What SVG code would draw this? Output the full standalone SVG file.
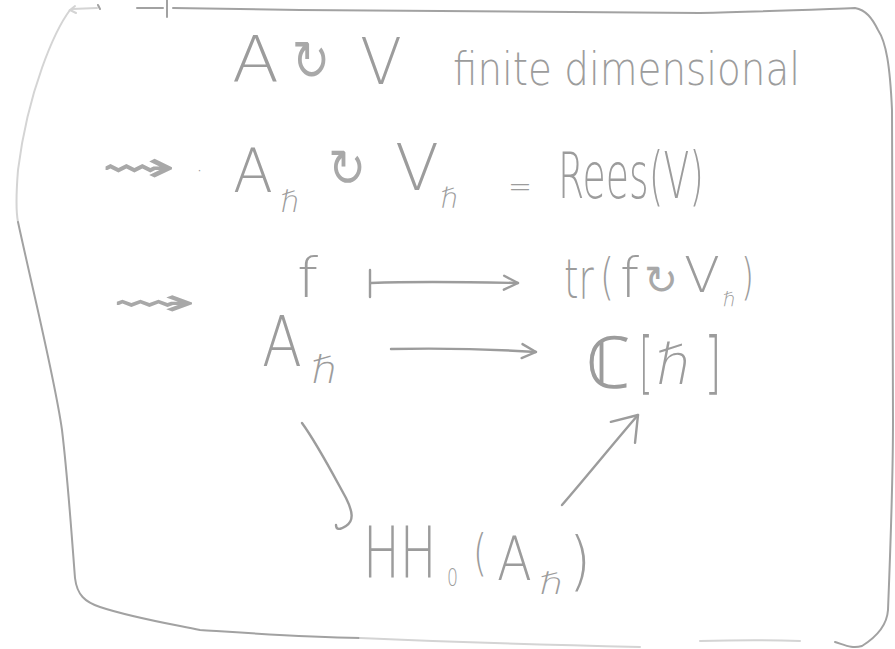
<svg xmlns="http://www.w3.org/2000/svg" width="895" height="649" viewBox="0 0 895 649">
<style>
.t{font-family:"DejaVu Sans","Liberation Sans",sans-serif;fill:#9c9c9c;font-weight:200}
.y{font-weight:400;fill:#a8a8a8}
.ln{fill:none;stroke:#9c9c9c;stroke-width:2.4;stroke-linecap:round;stroke-linejoin:round}
.fr{fill:none;stroke:#a2a2a2;stroke-width:2;stroke-linecap:round;stroke-linejoin:round}
.frl{fill:none;stroke:#d4d4d4;stroke-width:2;stroke-linecap:round}
</style>
<defs>
<marker id="ah" viewBox="-2 -2 20 20" refX="14" refY="7" markerWidth="20" markerHeight="20" markerUnits="userSpaceOnUse" orient="auto">
<path d="M0,0 L14,7 L0,14" fill="none" stroke="#9c9c9c" stroke-width="2.4" stroke-linecap="round" stroke-linejoin="round"/>
</marker>
<marker id="ahL" viewBox="-2 -2 30 36" refX="23" refY="16" markerWidth="30" markerHeight="36" markerUnits="userSpaceOnUse" orient="auto">
<path d="M0,0 L23,16 L0,32" fill="none" stroke="#9c9c9c" stroke-width="2.4" stroke-linecap="round" stroke-linejoin="round"/>
</marker>
</defs>
<rect width="895" height="649" fill="#ffffff"/>
<g id="frame">
<path class="frl" d="M70,10 C55,30 28,90 18,170 C16,195 16,212 18,222"/>
<path class="frl" d="M75,6 L70,10 L76,13 M72,9 L97,8"/>
<path class="fr" d="M98,5 L100,9 M137,8 L163,8 M167,0 L167,17"/>
<path class="fr" d="M18,222 C35,300 55,380 62,430 C68,480 72,540 75,578 C77,595 85,602 100,607 C130,617 160,622 200,630 C260,634 300,637 360,638"/>
<path class="frl" d="M360,638 C450,642 550,645 640,647 M700,641 C740,640 770,640 800,641"/>
<path class="fr" d="M835,642 C845,645 852,649 862,646 C878,636 887,625 888,610 C890,560 893,480 893,420 L892,110 C890,65 886,42 878,30 C872,18 866,10 855,8 C800,10 750,12 700,13 C600,13 450,11 300,10 L173,8"/>
</g>
<g id="statement">
<text class="t" font-size="64"><tspan x="232" y="82" textLength="47" lengthAdjust="spacingAndGlyphs">A</tspan><tspan class="y" x="292" y="80" font-size="56" textLength="38" lengthAdjust="spacingAndGlyphs">↻</tspan><tspan x="360" y="84" textLength="42" lengthAdjust="spacingAndGlyphs">V</tspan><tspan x="453" y="85" font-size="46" textLength="347" lengthAdjust="spacingAndGlyphs">finite dimensional</tspan></text>
</g>
<g id="rees">
<text class="t" font-size="60"><tspan class="y" x="100" y="182" font-size="44" textLength="76" lengthAdjust="spacingAndGlyphs">⇝</tspan><tspan x="196" y="178" font-size="22">·</tspan><tspan x="233" y="192" textLength="40" lengthAdjust="spacingAndGlyphs">A</tspan><tspan x="281" y="212" font-size="30">ℏ</tspan><tspan class="y" x="328" y="186" font-size="52" textLength="38" lengthAdjust="spacingAndGlyphs">↻</tspan><tspan x="395" y="190" font-size="64" textLength="44" lengthAdjust="spacingAndGlyphs">V</tspan><tspan x="441" y="208" font-size="28">ℏ</tspan><tspan x="508" y="198" font-size="34" textLength="24" lengthAdjust="spacingAndGlyphs">=</tspan><tspan x="558" y="198" font-size="64" textLength="146" lengthAdjust="spacingAndGlyphs">Rees(V)</tspan></text>
</g>
<g id="wiggle2">
<text class="t y" x="111" y="315" font-size="38" textLength="86" lengthAdjust="spacingAndGlyphs">⇝</text>
</g>
<g id="f">
<text class="t" x="297" y="297" font-size="56" textLength="21" lengthAdjust="spacingAndGlyphs">f</text>
</g>
<g id="trace">
<text class="t" font-size="56" transform="translate(564,298) scale(0.66,1)">tr</text>
<text class="t" font-size="56"><tspan x="600" y="294" font-size="50" textLength="14" lengthAdjust="spacingAndGlyphs">(</tspan><tspan x="620" y="297" textLength="19" lengthAdjust="spacingAndGlyphs">f</tspan><tspan class="y" x="644" y="294" font-size="40" textLength="34" lengthAdjust="spacingAndGlyphs">↻</tspan><tspan x="684" y="292" font-size="50" textLength="36" lengthAdjust="spacingAndGlyphs">V</tspan><tspan x="723" y="306" font-size="20">ℏ</tspan><tspan x="741" y="294" font-size="50" textLength="13" lengthAdjust="spacingAndGlyphs">)</tspan></text>
</g>
<g id="Ah">
<text class="t" font-size="70"><tspan x="262" y="366" textLength="40" lengthAdjust="spacingAndGlyphs">A</tspan><tspan x="312" y="383" font-size="38" textLength="26" lengthAdjust="spacingAndGlyphs">ℏ</tspan></text>
</g>
<g id="Ch">
<text class="t" x="586" y="388" font-size="72" textLength="46" lengthAdjust="spacingAndGlyphs">ℂ</text>
<text class="t" font-size="68" transform="translate(639,386) scale(0.52,1)">[</text>
<text class="t" font-size="68"><tspan x="657" y="384" font-size="56" textLength="35" lengthAdjust="spacingAndGlyphs">ℏ</tspan><tspan x="704" y="386" textLength="18" lengthAdjust="spacingAndGlyphs">]</tspan></text>
</g>
<g id="HH">
<text class="t" font-size="72" transform="translate(363,577) scale(0.68,1)">HH</text>
<text class="t" font-size="72"><tspan x="447" y="586" font-size="24" textLength="11" lengthAdjust="spacingAndGlyphs">0</tspan><tspan x="473" y="570" font-size="50" textLength="14" lengthAdjust="spacingAndGlyphs">(</tspan></text>
<text class="t" font-size="60" transform="translate(497,580) scale(0.85,1)">A</text>
<text class="t" font-size="72"><tspan x="540" y="594" font-size="30" textLength="24" lengthAdjust="spacingAndGlyphs">ℏ</tspan><tspan x="569" y="583" font-size="64" textLength="22" lengthAdjust="spacingAndGlyphs">)</tspan></text>
</g>
<g id="connectors">
<path class="ln" d="M370,270 L370,297"/>
<path class="ln" d="M371,283 C420,281 470,282 518,283" marker-end="url(#ah)"/>
<path class="ln" d="M391,349 C440,348 490,349 536,352" marker-end="url(#ah)"/>
<path class="ln" d="M302,423 C318,445 336,480 346,498 C353,512 354,521 346,526 C340,530 336,530 336,525"/>
<path class="ln" d="M562,505 C588,475 612,445 638,415" marker-end="url(#ahL)"/>
</g>
</svg>
